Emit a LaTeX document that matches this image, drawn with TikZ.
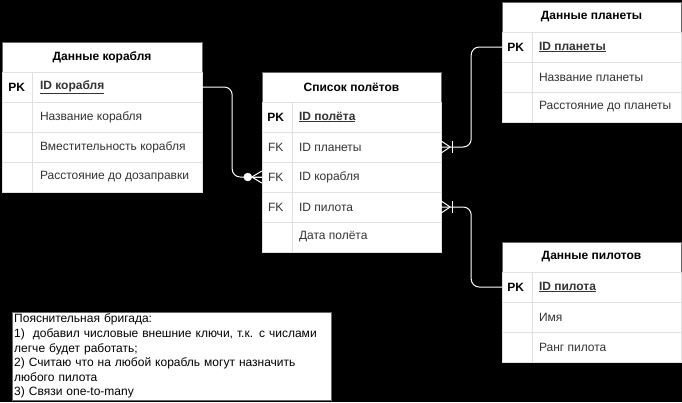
\documentclass[tikz,border=0pt]{standalone}
\usepackage{fontspec}
\setmainfont{Liberation Sans}
\usetikzlibrary{calc}

\definecolor{hdrline}{HTML}{666666}
\definecolor{rowline}{HTML}{E0E0E0}
\definecolor{rowtext}{HTML}{333333}

\tikzset{
  hdr/.style={draw=hdrline, fill=white, minimum width=#1, minimum height=30pt, inner sep=0pt,
    font=\fontsize{12}{14}\selectfont\bfseries},
  rowbox/.style={draw=rowline, fill=white, minimum width=#1, minimum height=30pt, inner sep=0pt},
  pk/.style={inner sep=0pt, font=\fontsize{12}{14}\selectfont\bfseries},
  fk/.style={inner sep=0pt, font=\fontsize{12}{14}\selectfont, text=rowtext},
  cell/.style={anchor=west, inner sep=0pt, font=\fontsize{12}{14}\selectfont, text=rowtext},
  keycell/.style={cell, font=\fontsize{12}{14}\selectfont\bfseries},
  link/.style={draw=white, line width=1pt, rounded corners=8pt},
  foot/.style={draw=white, line width=1pt},
  note/.style={draw=hdrline, fill=white, anchor=north west, minimum width=319pt, minimum height=88pt,
    text width=315pt, inner xsep=2pt, inner ysep=0pt, align=left, font=\fontsize{12}{14.6}\selectfont},
}

\begin{document}
\begin{tikzpicture}[x=1pt, y=-1pt]
\fill[black] (0,0) rectangle (682,402);

% Данные корабля
\node[hdr=200pt] (ship) at (102,57) {Данные корабля};
\node[rowbox=200pt] (ship1) at (102,87) {};
\node[rowbox=200pt] (ship2) at (102,117) {};
\node[rowbox=200pt] (ship3) at (102,147) {};
\node[rowbox=200pt] (ship4) at (102,177) {};
\draw[rowline] ($(ship1.north west)+(30,0)$) -- ($(ship4.south west)+(30,0)$);
\node[pk] at ($(ship1.west)+(15,0)$) {PK};
\node[keycell] at ($(ship1.west)+(38,0)$) {\underline{ID корабля}};
\node[cell] at ($(ship2.west)+(38,0)$) {Название корабля};
\node[cell] at ($(ship3.west)+(38,0)$) {Вместительность корабля};
\node[cell] at ($(ship4.west)+(38,0)$) {Расстояние до дозаправки};

% Список полётов
\node[hdr=179pt] (flight) at (351.5,87) {Список полётов};
\node[rowbox=179pt] (flight1) at (351.5,117) {};
\node[rowbox=179pt] (flight2) at (351.5,147) {};
\node[rowbox=179pt] (flight3) at (351.5,177) {};
\node[rowbox=179pt] (flight4) at (351.5,207) {};
\node[rowbox=179pt] (flight5) at (351.5,237) {};
\draw[rowline] ($(flight1.north west)+(30,0)$) -- ($(flight5.south west)+(30,0)$);
\node[pk] at ($(flight1.west)+(14,0)$) {PK};
\node[fk] at ($(flight2.west)+(14,0)$) {FK};
\node[fk] at ($(flight3.west)+(14,0)$) {FK};
\node[fk] at ($(flight4.west)+(14,0)$) {FK};
\node[keycell] at ($(flight1.west)+(37,0)$) {\underline{ID полёта}};
\node[cell] at ($(flight2.west)+(37,0)$) {ID планеты};
\node[cell] at ($(flight3.west)+(37,0)$) {ID корабля};
\node[cell] at ($(flight4.west)+(37,0)$) {ID пилота};
\node[cell] at ($(flight5.west)+(37,0)$) {Дата полёта};

% Данные планеты
\node[hdr=179pt] (planet) at (591.5,17) {Данные планеты};
\node[rowbox=179pt] (planet1) at (591.5,47) {};
\node[rowbox=179pt] (planet2) at (591.5,77) {};
\node[rowbox=179pt] (planet3) at (591.5,107) {};
\draw[rowline] ($(planet1.north west)+(30,0)$) -- ($(planet3.south west)+(30,0)$);
\node[pk] at ($(planet1.west)+(14,0)$) {PK};
\node[keycell] at ($(planet1.west)+(37,0)$) {\underline{ID планеты}};
\node[cell] at ($(planet2.west)+(37,0)$) {Название планеты};
\node[cell] at ($(planet3.west)+(37,0)$) {Расстояние до планеты};

% Данные пилотов
\node[hdr=179pt] (pilot) at (591.5,257) {Данные пилотов};
\node[rowbox=179pt] (pilot1) at (591.5,287) {};
\node[rowbox=179pt] (pilot2) at (591.5,317) {};
\node[rowbox=179pt] (pilot3) at (591.5,347) {};
\draw[rowline] ($(pilot1.north west)+(30,0)$) -- ($(pilot3.south west)+(30,0)$);
\node[pk] at ($(pilot1.west)+(14,0)$) {PK};
\node[keycell] at ($(pilot1.west)+(37,0)$) {\underline{ID пилота}};
\node[cell] at ($(pilot2.west)+(37,0)$) {Имя};
\node[cell] at ($(pilot3.west)+(37,0)$) {Ранг пилота};

% связи
\draw[link] (ship1.east) -- ++(30,0) |- (flight3.west);
\draw[link] (flight2.east) -- ++(30,0) |- (planet1.west);
\draw[link] (flight4.east) -- ++(30,0) |- (pilot1.west);

% ноль или много
\draw[foot] ($(flight3.west)+(-10,0)$) -- ($(flight3.west)+(0,-6)$);
\draw[foot] ($(flight3.west)+(-10,0)$) -- (flight3.west);
\draw[foot] ($(flight3.west)+(-10,0)$) -- ($(flight3.west)+(0,6)$);
\filldraw[fill=white, draw=white] ($(flight3.west)+(-14,0)$) circle (4pt);

% один или много
\draw[foot] ($(flight2.east)+(9,0)$) -- ($(flight2.east)+(0,-6)$);
\draw[foot] ($(flight2.east)+(9,0)$) -- ($(flight2.east)+(0,6)$);
\draw[foot] ($(flight2.east)+(11,-6)$) -- ($(flight2.east)+(11,6)$);
\draw[foot] ($(flight4.east)+(9,0)$) -- ($(flight4.east)+(0,-6)$);
\draw[foot] ($(flight4.east)+(9,0)$) -- ($(flight4.east)+(0,6)$);
\draw[foot] ($(flight4.east)+(11,-6)$) -- ($(flight4.east)+(11,6)$);

% пояснение
\node[note] (expl) at (12,312) {Пояснительная бригада:\\
1)~ добавил числовые внешние ключи, т.к. с числами\\
легче будет работать;\\
2) Считаю что на любой корабль могут назначить\\
любого пилота\\
3) Связи one-to-many};

\end{tikzpicture}
\end{document}
